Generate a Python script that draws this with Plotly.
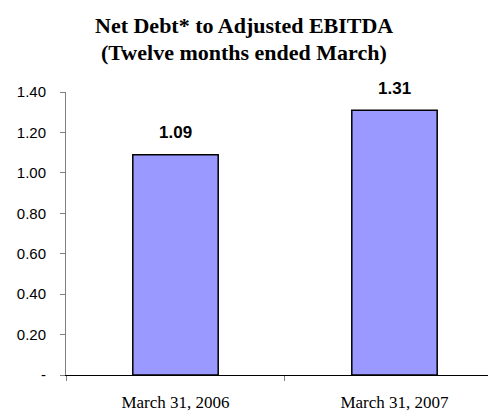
import plotly.graph_objects as go

# Net debt to adjusted EBITDA ratio, twelve months ended March
periods = ["March 31, 2006", "March 31, 2007"]
ratios = [1.09, 1.31]

y_tickvals = [0, 0.2, 0.4, 0.6, 0.8, 1.0, 1.2, 1.4]
y_ticktext = ["-", "0.20", "0.40", "0.60", "0.80", "1.00", "1.20", "1.40"]

title_lines = ["Net Debt* to Adjusted EBITDA", "(Twelve months ended March)"]

fig = go.Figure()
fig.add_trace(go.Bar(
    x=periods,
    y=ratios,
    width=0.39,
    marker=dict(color="#9999FF", line=dict(color="#000000", width=1.5)),
    hoverinfo="skip",
))

# Value labels above each bar
for p, v in zip(periods, ratios):
    fig.add_annotation(
        x=p, y=v, text=f"<b>{v:.2f}</b>", showarrow=False,
        yanchor="middle", yshift=22,
        font=dict(family="Arial, Liberation Sans", size=17, color="#000000"),
    )

# Two-line heading, centred on the page
title_center_x = (244 - 66) / 422
for line, ypos in zip(title_lines, [1.236, 1.140]):
    fig.add_annotation(
        xref="paper", yref="paper", x=title_center_x, y=ypos,
        text=f"<b>{line}</b>", showarrow=False,
        xanchor="center", yanchor="middle",
        font=dict(family="Times New Roman, Liberation Serif", size=22, color="#000000"),
    )

fig.update_layout(
    width=488, height=412,
    margin=dict(l=66, r=0, t=92, b=32),
    paper_bgcolor="#FFFFFF",
    plot_bgcolor="#FFFFFF",
    showlegend=False,
)

fig.update_xaxes(
    type="category",
    range=[-0.5, 1.427],
    showline=True, linecolor="#000000", linewidth=1,
    ticks="outside", tickson="boundaries", ticklen=5, tickcolor="#808080",
    ticklabelstandoff=12,
    showgrid=False, zeroline=False,
    tickfont=dict(family="Times New Roman, Liberation Serif", size=17, color="#000000"),
)

fig.update_yaxes(
    range=[0, 1.4],
    tickvals=y_tickvals, ticktext=y_ticktext,
    showline=True, linecolor="#808080", linewidth=1,
    ticks="outside", ticklen=5, tickcolor="#808080",
    ticklabelstandoff=11,
    showgrid=False, zeroline=False,
    tickfont=dict(family="Arial, Liberation Sans", size=15, color="#000000"),
)

fig.write_html("out.html")
